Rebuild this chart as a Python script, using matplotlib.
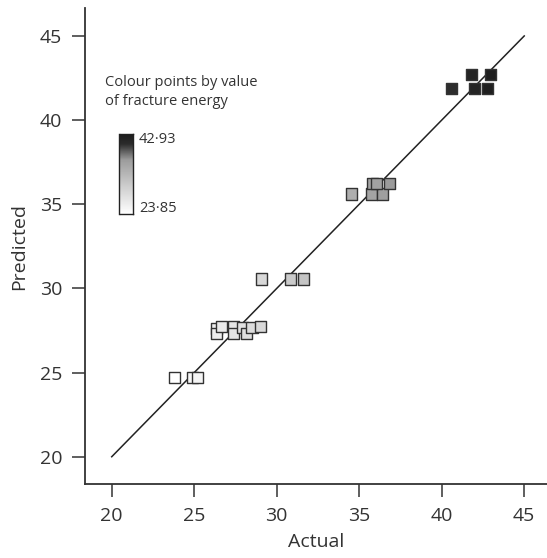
import numpy as np
import matplotlib
matplotlib.use("Agg")
import matplotlib.pyplot as plt
from matplotlib.colors import LinearSegmentedColormap, Normalize

# ---- data ----
actual = [23.82, 24.91, 25.19,
          26.33, 26.33, 26.67, 27.37, 27.37, 27.90, 28.18, 28.50, 28.99,
          29.09, 30.81, 31.61,
          34.55, 35.76, 36.42, 35.79, 36.06, 36.83,
          40.60, 41.96, 42.79, 41.82, 42.93]
predicted = [24.69, 24.69, 24.69,
             27.63, 27.33, 27.75, 27.73, 27.31, 27.69, 27.33, 27.70, 27.75,
             30.56, 30.56, 30.56,
             35.61, 35.61, 35.61, 36.22, 36.22, 36.22,
             41.90, 41.90, 41.90, 42.72, 42.72]
fit_line = [20, 45]
ticks = [20, 25, 30, 35, 40, 45]
cbar_min, cbar_max = 23.85, 42.93
cbar_labels = ["42·93", "23·85"]
legend_title = "Colour points by value\nof fracture energy"

plt.rcParams['font.family'] = ['Open Sans', 'DejaVu Sans']
txt = '#333333'

W, H = 547, 558
fig = plt.figure(figsize=(W / 100, H / 100), dpi=100)
ax = fig.add_axes([85 / W, (H - 484) / H, (547 - 85) / W, (484 - 8) / H])

cmap = LinearSegmentedColormap.from_list(
    'wg', [(0.0, '#ffffff'), (0.35, '#cdcdcd'), (0.68, '#9c9c9c'),
           (0.88, '#2c2c2c'), (1.0, '#1e1e1e')])
norm = Normalize(cbar_min, cbar_max)

ax.plot(fit_line, fit_line, color='#222222', lw=1.1, zorder=1)
ax.scatter(actual, predicted, c=actual, cmap=cmap, norm=norm, marker='s',
           s=64, edgecolors='#333333', linewidths=1.0, zorder=2)

ax.set_xlim(18.38, 46.38)
ax.set_ylim(18.38, 46.66)
ax.set_xticks(ticks)
ax.set_yticks(ticks)
for s in ['top', 'right']:
    ax.spines[s].set_visible(False)
for s in ['left', 'bottom']:
    ax.spines[s].set_color(txt)
    ax.spines[s].set_linewidth(1.3)
ax.tick_params(length=9.5, width=1.1, color=txt, labelcolor=txt,
               labelsize=14, pad=7)
ax.set_xlabel('Actual', fontsize=14, color=txt, labelpad=6)
ax.set_ylabel('Predicted', fontsize=14, color=txt, labelpad=8)

# colour legend
fig.text(105 / W, 1 - 92 / H, legend_title, fontsize=10.5, color=txt,
         va='center', ha='left', linespacing=1.3)
cax = fig.add_axes([119.5 / W, 1 - 214 / H, 13 / W, 80 / H])
grad = np.linspace(cbar_max, cbar_min, 100).reshape(-1, 1)
cax.imshow(grad, cmap=cmap, norm=norm, aspect='auto')
cax.set_xticks([])
cax.set_yticks([])
for s in cax.spines.values():
    s.set_color('#222222')
    s.set_linewidth(1.0)
fig.text(139 / W, 1 - 132 / H, cbar_labels[0], fontsize=10.5, color=txt,
         va='top', ha='left')
fig.text(139 / W, 1 - 216 / H, cbar_labels[1], fontsize=10.5, color=txt,
         va='bottom', ha='left')

fig.savefig('out.png', dpi=100)
